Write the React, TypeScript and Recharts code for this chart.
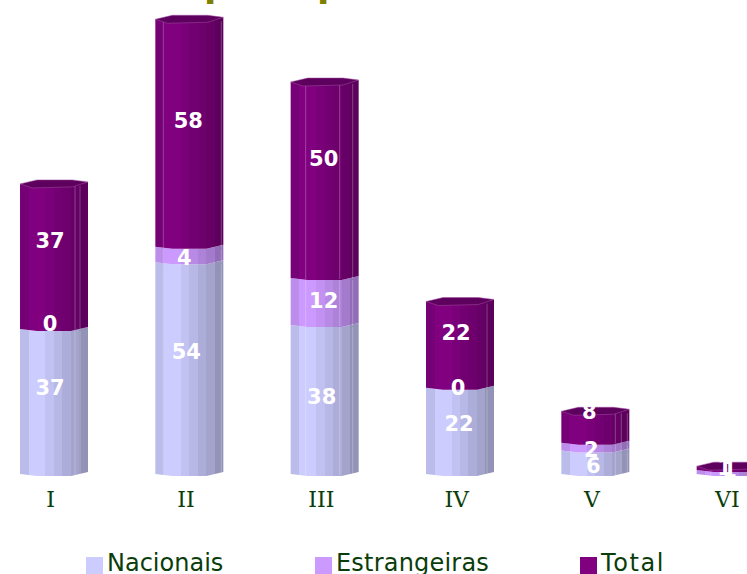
import React from 'react';
import { BarChart, Bar, XAxis, YAxis, Legend, LabelList } from 'recharts';

const categories = ['I', 'II', 'III', 'IV', 'V', 'VI'];
const nacionais = [37, 54, 38, 22, 6, null];
const estrangeiras = [0, 4, 12, 0, 2, 1];
const total = [37, 58, 50, 22, 8, 1];

const data = categories.map((name, i) => ({
  name,
  Nacionais: nacionais[i],
  Estrangeiras: estrangeiras[i],
  Total: total[i],
}));

const COLORS: Record<string, string> = { Nacionais: '#ccccff', Estrangeiras: '#cc99ff', Total: '#800080' };
const GREEN = '#0b3d0b';
const FONT = '"DejaVu Sans", Verdana, sans-serif';

// the picture's labels do not sit in the middle of their segments
const labelNudge: Record<string, number[][]> = {
  Nacionais: [[-4, -13], [-3, -16], [-3, -3], [-1, -7], [-2, 4], [0, 0]],
  Estrangeiras: [[-4, -5], [-5, 4], [-1, -1], [-2, 0], [-4, 3], [-1, -2]],
  Total: [[-4, -15], [-1, -12], [-1, -21], [-4, -12], [-6, -15], [-6, 0]],
};

// thin facet lines on each cylinder, as offsets from the bar's left edge
const facetLines = [[55, 60], [8, 66], [15, 49, 62], [61], [54, 60, 66], [14]];

const legendLeft: Record<string, number> = { Nacionais: 100, Estrangeiras: 329, Total: 594 };
const legendSpacing: Record<string, number> = { Nacionais: 0, Estrangeiras: 0.2, Total: 1.6 };

const shades = [0.92, 1, 1, 0.95, 0.9, 0.85, 0.8, 0.72];

const Gradient = ({ id, color }: { id: string; color: string }) => {
  const r = parseInt(color.slice(1, 3), 16);
  const g = parseInt(color.slice(3, 5), 16);
  const b = parseInt(color.slice(5, 7), 16);
  return (
    <linearGradient id={id} x1="0" y1="0" x2="1" y2="0">
      {shades.flatMap((s, i) => {
        const c = `rgb(${Math.round(r * s)},${Math.round(g * s)},${Math.round(b * s)})`;
        return [
          <stop key={`${i}a`} offset={i / shades.length} stopColor={c} />,
          <stop key={`${i}b`} offset={(i + 1) / shades.length} stopColor={c} />,
        ];
      })}
    </linearGradient>
  );
};

// top edge of a segment bends down in the middle like a rough ellipse
const edge = (x: number, y: number, w: number) => [
  [x, y],
  [x + w * 0.25, y + 2],
  [x + w * 0.75, y + 2],
  [x + w, y - 2],
];

const Cylinder = (props: any) => {
  const { x, y, width: w, height: h, seriesKey, index } = props;
  if (h == null || h <= 0) return null;
  const top = edge(x, y, w);
  const bottom = edge(x, y + h, w).reverse();
  const pts = [...top, ...bottom].map((p) => p.join(',')).join(' ');
  const lines = facetLines[index] || [];
  return (
    <g>
      <polygon points={pts} fill={`url(#grad-${seriesKey})`} />
      {lines.map((o: number) => (
        <line key={o} x1={x + o} x2={x + o} y1={y + 2} y2={y + h + 1} stroke="#fff" strokeOpacity={0.25} />
      ))}
      {seriesKey === 'Total' && (
        <polygon
          points={[
            [x, y],
            [x + w * 0.25, y - 4],
            [x + w * 0.77, y - 4],
            [x + w, y - 2],
            [x + w * 0.77, y + 3],
            [x + w * 0.18, y + 4],
          ].map((p) => p.join(',')).join(' ')}
          fill="#5e005e"
          stroke="#a050a0"
          strokeWidth={0.5}
        />
      )}
    </g>
  );
};

const makeLabel = (key: string) => (props: any) => {
  const { x, y, width, height, value, index } = props;
  if (value == null) return null;
  const [dx, dy] = labelNudge[key][index];
  return (
    <text
      x={x + width / 2 + dx}
      y={y + height / 2 + dy}
      fill="#fff"
      fontFamily={FONT}
      fontWeight="bold"
      fontSize={21}
      textAnchor="middle"
      dominantBaseline="central"
    >
      {value}
    </text>
  );
};

const LegendRow = ({ payload }: any) => (
  <div style={{ position: 'relative', height: 0 }}>
    {(payload || []).map((p: any) => (
      <div
        key={p.value}
        style={{ position: 'absolute', left: legendLeft[p.value], top: 3, whiteSpace: 'nowrap', color: GREEN, fontFamily: FONT, fontSize: 24, lineHeight: '28px', letterSpacing: legendSpacing[p.value] }}
      >
        <span style={{ position: 'absolute', left: 0, top: 9, width: 17, height: 17, background: COLORS[p.value] }} />
        <span style={{ marginLeft: 21, position: 'relative', top: 1 }}>{p.value}</span>
      </div>
    ))}
  </div>
);

const titleStyle: React.CSSProperties = {
  position: 'absolute',
  top: -34,
  color: '#808000',
  fontFamily: FONT,
  fontWeight: 'bold',
  fontSize: 36,
  lineHeight: '38px',
};

export default function App() {
  return (
    <div style={{ position: 'fixed', left: 0, top: 0, width: 747, height: 574, overflow: 'hidden', background: '#fff' }}>
      <div style={{ ...titleStyle, left: 204 }}>p</div>
      <div style={{ ...titleStyle, left: 317 }}>p</div>
      <div style={{ position: 'absolute', left: -14, top: 0 }}>
        <BarChart
          width={812}
          height={574}
          data={data}
          barSize={68}
          margin={{ top: 3.6, right: 0, left: 0, bottom: 70 }}
        >
          <defs>
            {Object.keys(COLORS).map((k) => (
              <Gradient key={k} id={`grad-${k}`} color={COLORS[k]} />
            ))}
          </defs>
          <XAxis
            dataKey="name"
            height={30}
            axisLine={false}
            tickLine={false}
            tickMargin={11}
            interval={0}
            dx={-3}
            tick={{ fill: GREEN, fontFamily: '"DejaVu Serif", serif', fontSize: 22 }}
          />
          <YAxis hide domain={[0, 120]} />
          <Legend
            verticalAlign="top"
            align="left"
            height={0}
            wrapperStyle={{ top: 545, left: 0, width: 812 }}
            content={<LegendRow />}
          />
          {Object.keys(COLORS).map((k) => (
            <Bar key={k} dataKey={k} stackId="a" fill={COLORS[k]} isAnimationActive={false} shape={(p: any) => <Cylinder {...p} seriesKey={k} />}>
              <LabelList dataKey={k} content={makeLabel(k)} />
            </Bar>
          ))}
        </BarChart>
      </div>
    </div>
  );
}
